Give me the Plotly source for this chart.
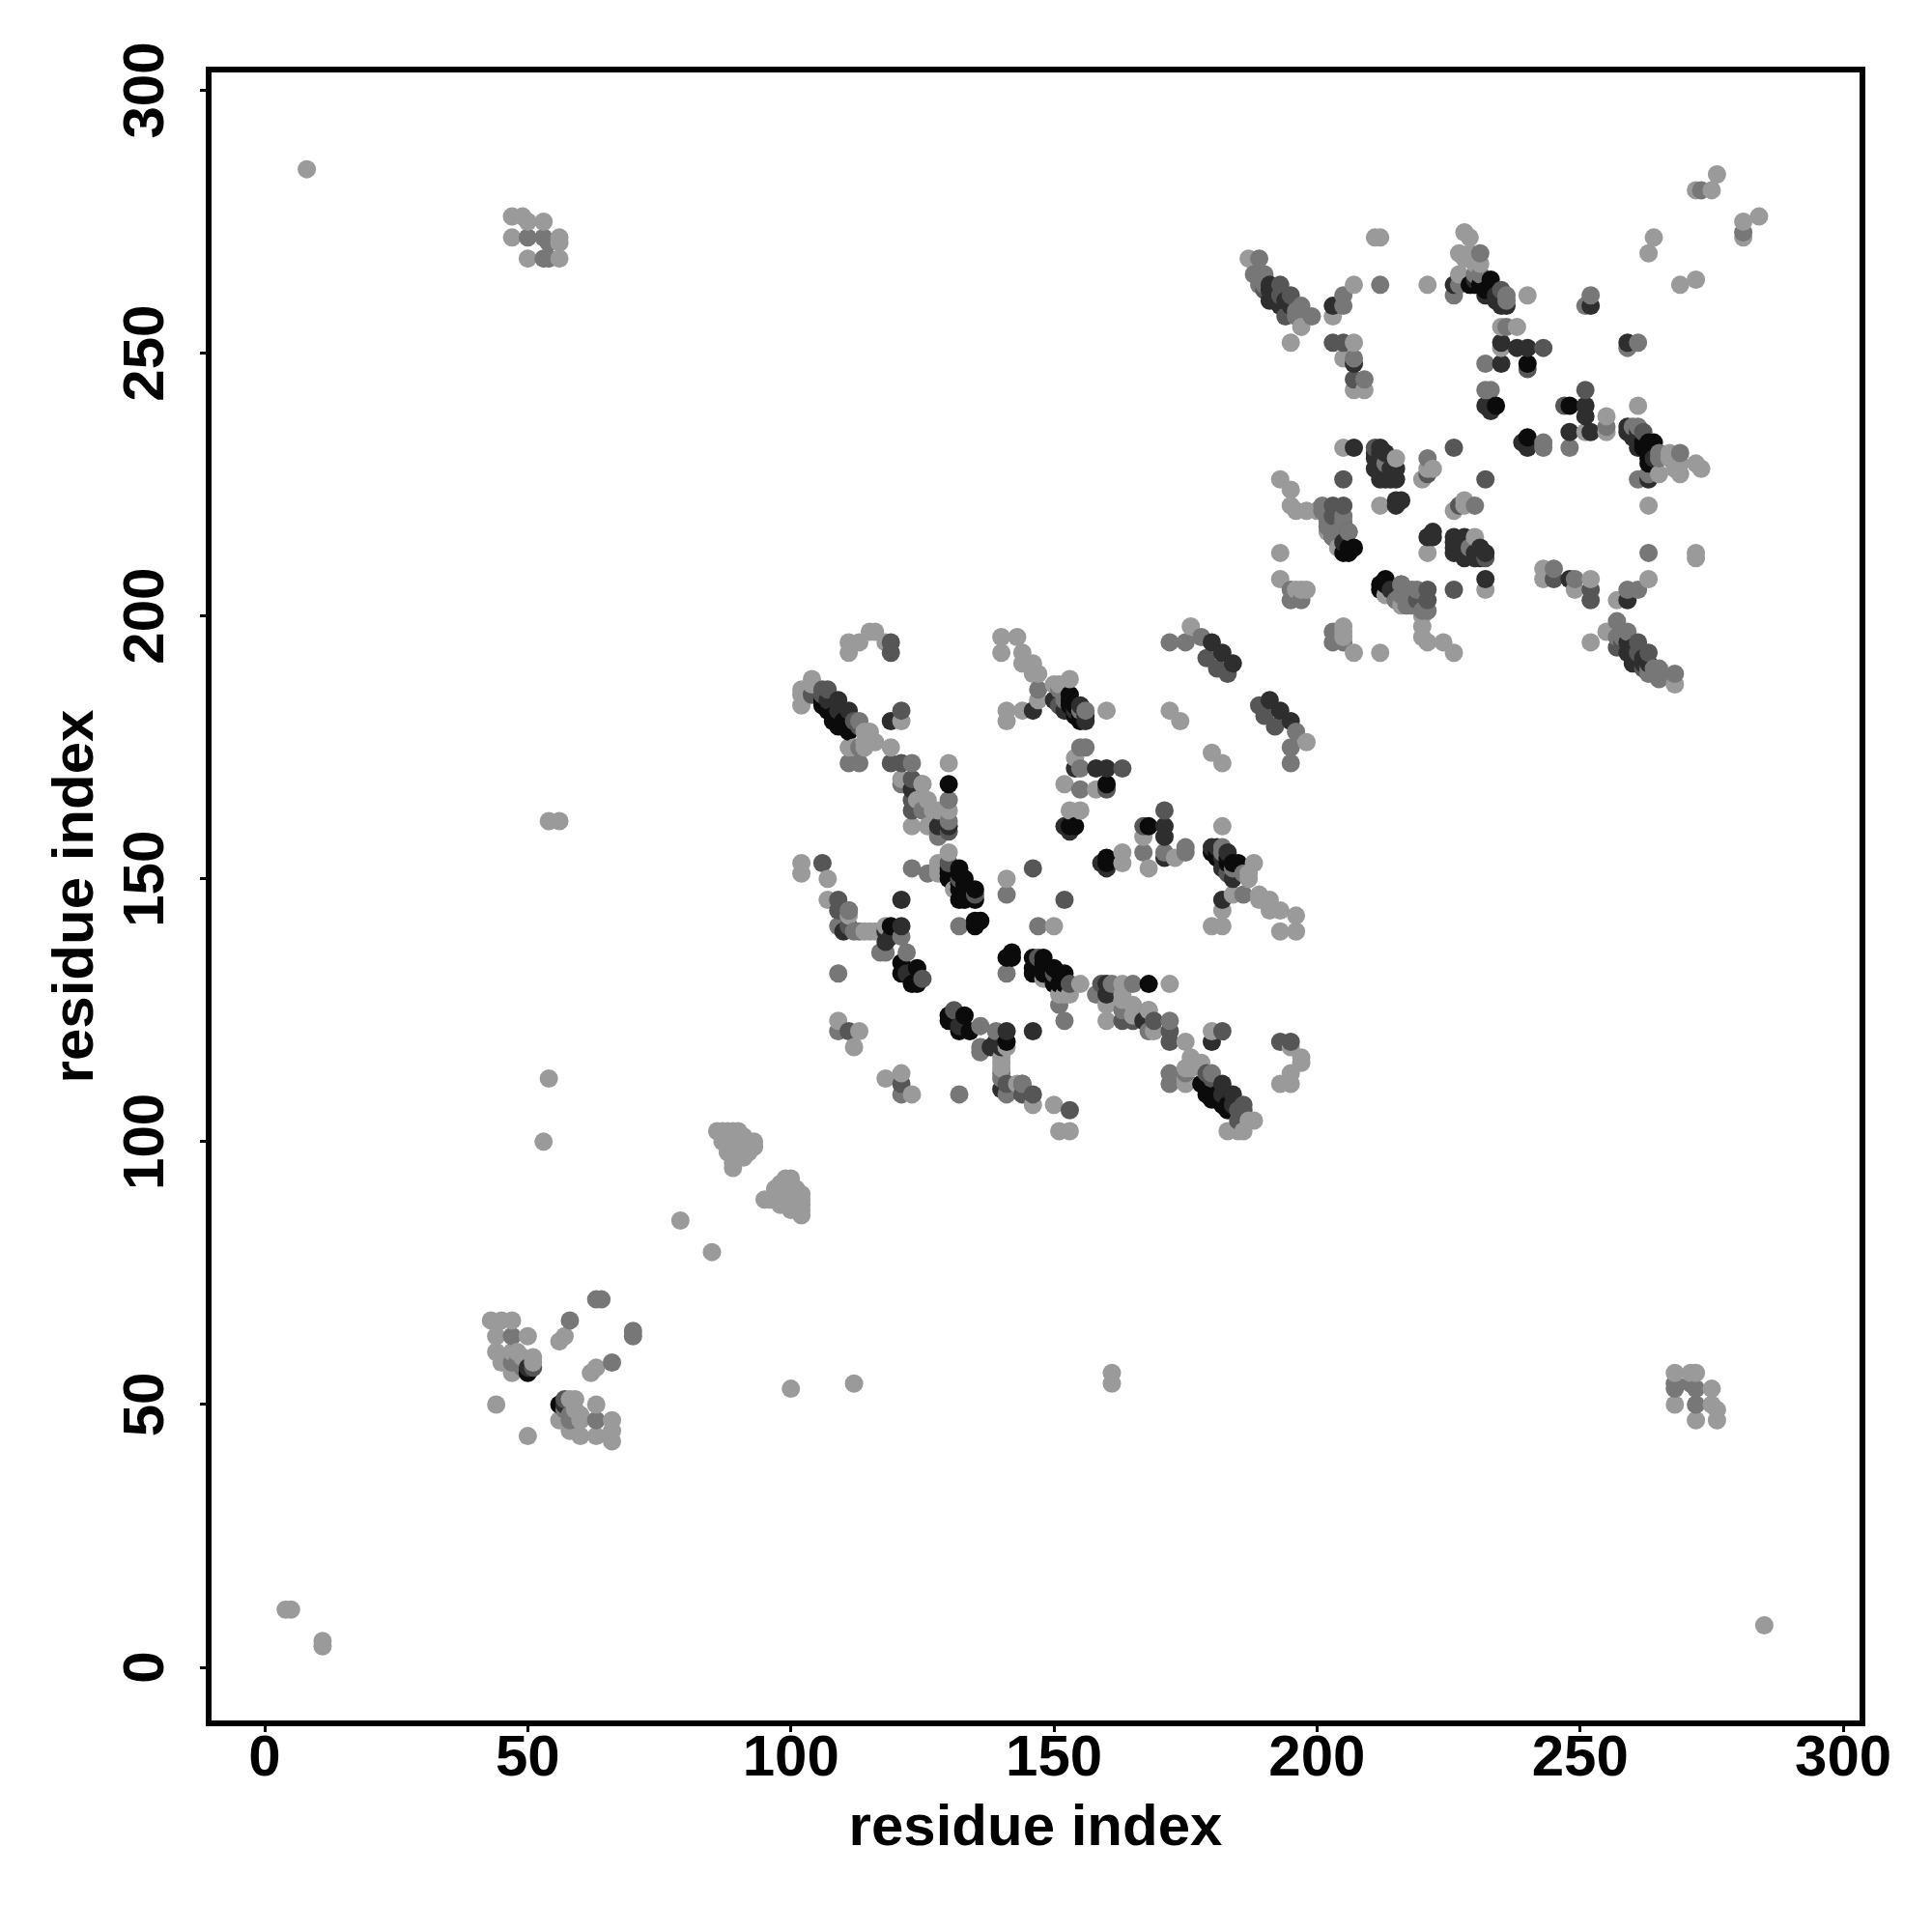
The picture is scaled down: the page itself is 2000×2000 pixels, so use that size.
import plotly.graph_objects as go

# Contacts, one triangle (i < j); the map is symmetric.
contacts_light = [(8,285),(4,11),(5,11),(53,100),(54,112),(54,161),(56,161),(79,85),
 (43,66),(45,66),(47,66),(44,63),(50,63),(44,60),(45,58),(47,56),(47,60),(48,60),(51,59),(44,50),(56,62),(57,63),(46,58),(49,59),(51,58),
 (86,102),(87,102),(88,102),(89,102),(90,102),(91,101),(87,100),(88,100),(89,100),(90,100),(91,100),(92,100),(93,100),(88,98),(89,98),(90,98),(91,98),(92,98),(92,99),(93,99),(89,96),(89,95),(90,97),(91,97),
 (47,276),(49,276),(50,275),(47,272),(53,275),(56,272),(56,271),(50,268),(56,268),
 (102,186),(102,185),(102,183),(104,188),(104,187),(103,185),(111,195),(111,193),(113,195),(115,197),(116,197),(118,195),
 (114,178),(115,178),(116,176),(114,176),(111,175),(112,175),(114,175),(119,175),(121,180),(121,169),(125,168),(123,160),(124,165),(126,165),(127,163),(126,160),(130,172),(130,163),(128,163),
 (102,153),(102,151),(107,150),(107,146),(111,143),(114,140),(116,140),(118,141),(115,140),(128,152),(130,155),(128,153),(128,151),(131,148),(141,150),
 (109,123),(113,121),(112,118),
 (140,196),(143,196),(140,193),(144,193),(144,191),(146,191),(146,189),(147,189),(147,184),(144,182),(141,182),(141,180),(150,187),(153,188),(151,187),(160,182),
 (176,198),(174,180),(172,182),(153,163),(155,163),(152,168),(158,167),(154,173),(163,153),
 (187,268),(197,255),(195,252),(207,263),(203,257),(211,272),(212,272),(207,252),(205,249),(207,243),(209,243),(221,263),
 (228,273),(229,272),(227,269),(229,269),(231,267),(227,265),(240,261),(235,255),(238,255),(235,251),
 (205,232),(215,230),(221,228),(220,226),(193,226),(195,224),(195,221),(196,220),(198,220),(200,220),(212,221),(222,228),
 (193,212),(193,207),(197,205),(198,205),(196,205),(202,216),(204,213),(263,269),(264,272),(272,281),(275,281),(276,284),
 (230,267),(228,268)]

contacts_mid = [(47,63),(47,58),(58,66),(48,58),(49,57),(63,70),(64,70),(50,272),(53,272),(54,271),(53,268),(54,268),
 (113,180),(113,175),(111,172),(113,172),(123,172),(125,163),(128,158),(130,165),(130,161),(111,144),(109,141),(112,140),(113,140),
 (121,139),(118,136),(122,136),(117,136),(109,132),(123,152),(126,151),(132,141),(141,147),(147,186),(151,186),(152,184),(155,182),(156,182),(109,121),
 (155,175),(156,175),(155,171),(155,167),(172,195),(175,195),(178,196),(128,159),(125,168),(121,168),
 (189,268),(188,265),(190,265),(190,264),(190,263),(189,263),(197,259),(199,257),(196,258),(196,257),(205,261),(205,259),(207,249),(209,245),(212,263),
 (231,269),(226,261),(227,263),(236,261),(236,260),(231,265),(230,265),(236,255),(232,248),(232,243),(233,243),(252,261),(251,259),(213,229),(221,230),
 (201,221),(202,218),(201,220),(205,219),(206,216),(204,216),(203,217),(205,218),(203,215),(202,217),(195,205),(195,203),(197,203),(273,281),(281,273)]

contacts_dark = [(106,186),(107,186),(104,185),(106,185),(112,180),(113,179),(119,172),(121,172),(121,182),(123,169),(123,165),(123,163),(106,153),(109,146),(109,144),
 (125,131),(111,144),(111,141),(119,193),(119,195),(111,121),(132,150),(146,152),(151,183),(130,153),(135,147),(130,159),(124,165),
 (179,192),(181,190),(183,189),(160,167),(163,171),(193,263),(195,261),(193,261),(195,258),(190,262),(194,257),(203,252),(205,252),(207,245),
 (235,262),(243,251),(240,247),(205,221),(203,221),(215,203),(211,232),(205,226),(221,227),(226,232),(203,219),(216,206),(51,57)]

contacts_black = [(109,184),(107,184),(109,182),(111,182),(121,146),(119,180),(121,141),(119,139),(122,132),(118,138),(118,140),(110,140),(130,160),(128,160),(123,167),
 (146,182),(150,184),(152,182),(154,182),(156,180),(155,183),(156,181),
 (158,171),(160,171),(154,171),(152,160),(153,159),(180,195),(182,193),(184,191),(191,260),(193,259),(191,263),(191,262),(192,262),(192,260),(194,260),(195,259),
 (203,259),(207,248),(207,232),(212,232),(213,231),(211,231),(212,231),(213,226),(214,226),
 (211,230),(211,228),(212,226),(215,228),(215,226),(215,222),(216,222),(215,221),(205,214),(226,263),(232,261),(234,260),(236,259),(230,264),(234,261),(235,260),(235,261),
 (235,252),(235,248),(238,251),(240,251),(232,240),(233,239),(252,259),(235,259),(212,230),(212,228),(214,228),(50,57)]

contacts_deep = [(106,183),(107,182),(108,180),(109,179),(111,178),(106,184),(110,179),(110,180),(109,181),(108,181),(107,183),(121,134),(124,133),(121,132),(124,130),(123,130),
 (119,141),(130,168),(130,152),(132,152),(130,151),(132,148),(132,146),(135,148),(135,146),(133,148),(135,141),(136,142),(135,142),
 (133,146),(130,150),(132,151),(133,150),(134,148),(133,149),(132,149),(153,183),(153,185),(155,180),(153,184),(154,181),(154,183),(155,181),(154,160),(153,160),
 (160,168),(205,212),(206,212),(207,213),(206,213),(233,264),(233,262),(230,263),(229,263),(231,263),(232,262),(233,263),(234,240),(240,248),(50,56)]

levels = [(contacts_light, "#9a9a9a"), (contacts_mid, "#777777"), (contacts_dark, "#565656"),
          (contacts_black, "#2e2e2e"), (contacts_deep, "#0b0b0b")]

tick_values = [0, 50, 100, 150, 200, 250, 300]

points = []
for pairs, colour in levels:
    for i, j in pairs:
        points.append((i, j, colour))
        points.append((j, i, colour))
points = sorted(set(points), key=lambda p: (p[0], p[1], p[2]), reverse=False)

FONT = "Liberation Sans"
fig = go.Figure(go.Scatter(
    x=[p[0] for p in points], y=[p[1] for p in points], mode="markers",
    marker=dict(size=19, color=[p[2] for p in points], line=dict(width=0)),
    showlegend=False))

axis = dict(tickvals=tick_values, ticks="outside", ticklen=6, tickwidth=3,
            tickcolor="black", showline=True, linewidth=6, linecolor="black", mirror=True,
            showgrid=False, zeroline=False, automargin=False,
            tickfont=dict(family=FONT, size=60, color="black", weight="bold"))
fig.update_xaxes(**axis)
fig.update_xaxes(range=[-10.1, 303.1],
                 title=dict(text="residue index", font=dict(family=FONT, size=60, color="black", weight="bold"), standoff=20),
                 tickangle=0, ticklabelstandoff=-27)
fig.update_yaxes(**axis)
fig.update_yaxes(range=[-10.1, 303.4],
                 title=dict(text="residue index", font=dict(family=FONT, size=60, color="black", weight="bold"), standoff=1),
                 tickangle=-90, ticklabelstandoff=14, ticklabelshift=9)
fig.update_layout(width=2000, height=2000, autosize=False, paper_bgcolor="white", plot_bgcolor="white",
                  margin=dict(l=211, r=83, t=67, b=227), font=dict(family=FONT))
fig.write_html("out.html")
